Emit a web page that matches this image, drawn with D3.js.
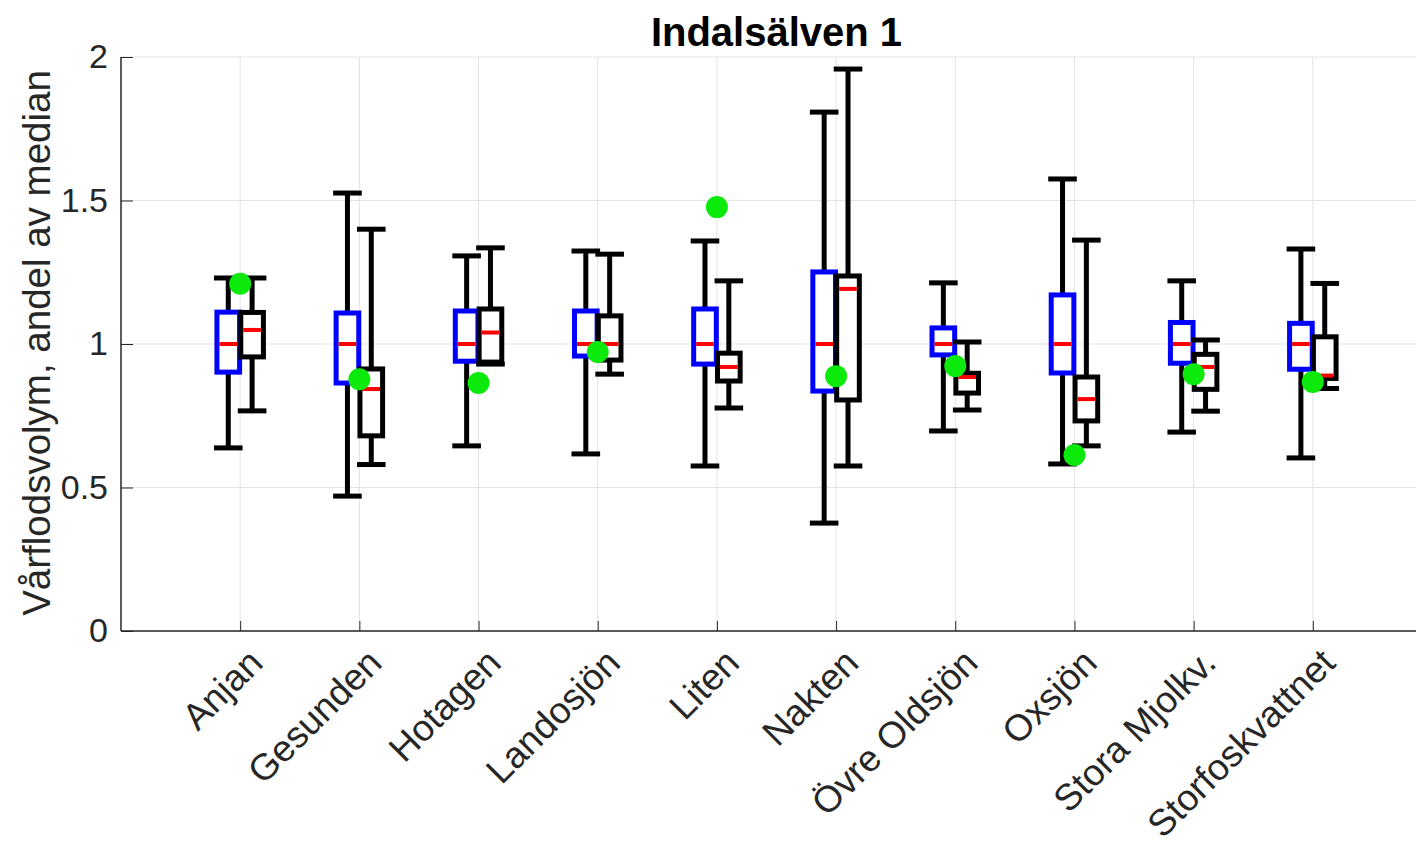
<!DOCTYPE html>
<head>
  <meta charset="utf-8">
  <title>Indalsälven 1</title>
  <style>
    body { margin: 0; background: #fff; }
    text { font-family: "Liberation Sans", Arial, sans-serif; }
  </style>
</head>
<body>
<script src="https://d3js.org/d3.v7.min.js"></script>
<script>

    // Data
    var stations = ["Anjan", "Gesunden", "Hotagen", "Landosjön", "Liten", "Nakten",
                    "Övre Oldsjön", "Oxsjön", "Stora Mjolkv.", "Storfoskvattnet"];

    // blue boxes
    var blueHigh = [1.23, 1.526, 1.307, 1.324, 1.359, 1.808, 1.213, 1.575, 1.22, 1.331];
    var blueQ3   = [1.111, 1.108, 1.115, 1.115, 1.122, 1.251, 1.056, 1.171, 1.075, 1.072];
    var blueMed  = [1.0, 1.0, 1.0, 1.0, 1.0, 1.0, 1.0, 1.0, 1.0, 1.0];
    var blueQ1   = [0.902, 0.864, 0.94, 0.958, 0.93, 0.836, 0.962, 0.899, 0.933, 0.912];
    var blueLow  = [0.638, 0.47, 0.645, 0.617, 0.575, 0.376, 0.697, 0.582, 0.693, 0.603];

    // black boxes
    var blackHigh = [1.23, 1.40, 1.335, 1.313, 1.22, 1.958, 1.007, 1.362, 1.014, 1.211];
    var blackQ3   = [1.11, 0.913, 1.122, 1.098, 0.968, 1.237, 0.898, 0.885, 0.964, 1.025];
    var blackMed  = [1.049, 0.843, 1.04, 1.0, 0.92, 1.192, 0.885, 0.808, 0.92, 0.89];
    var blackQ1   = [0.955, 0.68, 0.937, 0.944, 0.871, 0.805, 0.829, 0.732, 0.842, 0.88];
    var blackLow  = [0.767, 0.58, 0.93, 0.895, 0.777, 0.575, 0.770, 0.645, 0.766, 0.845];

    // green dots
    var greenVal = [1.21, 0.877, 0.864, 0.972, 1.477, 0.888, 0.923, 0.613, 0.895, 0.868];

    var yTicks = [0, 0.5, 1, 1.5, 2];

    var width = 1416, height = 846;
    var margin = { left: 121, right: 1432, top: 57, bottom: 631 };

    var x = d3.scaleLinear().domain([0, stations.length + 1]).range([margin.left, margin.right]);
    var y = d3.scaleLinear().domain([0, 2]).range([margin.bottom, margin.top]);

    var svg = d3.select("body").append("svg")
        .attr("width", width)
        .attr("height", height);

    // grid
    svg.append("g").selectAll("line")
        .data(yTicks)
        .enter().append("line")
        .attr("x1", margin.left).attr("x2", margin.right)
        .attr("y1", function(d) { return y(d); })
        .attr("y2", function(d) { return y(d); })
        .attr("stroke", "#e3e3e3")
        .attr("stroke-width", 1);

    svg.append("g").selectAll("line")
        .data(stations)
        .enter().append("line")
        .attr("x1", function(d, i) { return x(i + 1); })
        .attr("x2", function(d, i) { return x(i + 1); })
        .attr("y1", margin.top).attr("y2", margin.bottom)
        .attr("stroke", "#e3e3e3")
        .attr("stroke-width", 1);

    // axes
    var yAxis = d3.axisLeft(y).tickValues(yTicks).tickSize(-12).tickPadding(13)
        .tickFormat(function(d) { return d; });
    var gy = svg.append("g")
        .attr("transform", "translate(" + margin.left + ",0)")
        .call(yAxis);
    gy.select(".domain").remove();
    gy.selectAll("line").attr("stroke", "#262626");
    gy.selectAll("text")
        .attr("fill", "#262626")
        .style("font-size", "34px");

    var xAxis = d3.axisBottom(x).tickValues(d3.range(1, stations.length + 1)).tickSize(-10)
        .tickFormat(function(d) { return stations[d - 1]; });
    var gx = svg.append("g")
        .attr("transform", "translate(0," + margin.bottom + ")")
        .call(xAxis);
    gx.select(".domain").remove();
    gx.selectAll("line").attr("stroke", "#262626");
    gx.selectAll("text")
        .attr("fill", "#262626")
        .style("font-size", "37px")
        .style("text-anchor", "end")
        .attr("dy", null)
        .attr("y", 0)
        .attr("transform", "translate(24,34) rotate(-45)");

    svg.append("line")
        .attr("x1", margin.left).attr("x2", margin.left)
        .attr("y1", margin.top).attr("y2", margin.bottom)
        .attr("stroke", "#262626").attr("stroke-width", 1.5);
    svg.append("line")
        .attr("x1", margin.left).attr("x2", margin.right)
        .attr("y1", margin.bottom).attr("y2", margin.bottom)
        .attr("stroke", "#262626").attr("stroke-width", 1.5);

    // title and y label
    svg.append("text")
        .attr("x", (margin.left + margin.right) / 2)
        .attr("y", 46)
        .style("text-anchor", "middle")
        .style("font-size", "40px")
        .style("font-weight", "bold")
        .attr("fill", "#000")
        .text("Indalsälven 1");

    svg.append("text")
        .attr("transform", "translate(50," + ((margin.top + margin.bottom) / 2 - 1) + ") rotate(-90)")
        .style("text-anchor", "middle")
        .style("font-size", "38.5px")
        .attr("fill", "#262626")
        .text("Vårflodsvolym, andel av median");

    // boxes
    function drawBoxes(high, q3, med, q1, low, offset, color) {
        var g = svg.append("g");
        var bw = 0.19, cw = 0.24;
        stations.forEach(function(s, i) {
            var cx = i + 1 + offset;
            g.append("line")
                .attr("x1", x(cx)).attr("x2", x(cx))
                .attr("y1", y(high[i])).attr("y2", y(q3[i]))
                .attr("stroke", "#000").attr("stroke-width", 5);
            g.append("line")
                .attr("x1", x(cx)).attr("x2", x(cx))
                .attr("y1", y(q1[i])).attr("y2", y(low[i]))
                .attr("stroke", "#000").attr("stroke-width", 5);
            g.append("line")
                .attr("x1", x(cx - cw / 2)).attr("x2", x(cx + cw / 2))
                .attr("y1", y(high[i])).attr("y2", y(high[i]))
                .attr("stroke", "#000").attr("stroke-width", 5);
            g.append("line")
                .attr("x1", x(cx - cw / 2)).attr("x2", x(cx + cw / 2))
                .attr("y1", y(low[i])).attr("y2", y(low[i]))
                .attr("stroke", "#000").attr("stroke-width", 5);
            g.append("rect")
                .attr("x", x(cx - bw / 2))
                .attr("width", x(cx + bw / 2) - x(cx - bw / 2))
                .attr("y", y(q3[i]))
                .attr("height", y(q1[i]) - y(q3[i]))
                .attr("fill", "#fff")
                .attr("stroke", color).attr("stroke-width", 5);
            g.append("line")
                .attr("x1", x(cx - bw / 2) + 2.5).attr("x2", x(cx + bw / 2) - 2.5)
                .attr("y1", y(med[i])).attr("y2", y(med[i]))
                .attr("stroke", "#ff0000").attr("stroke-width", 4);
        });
    }

    drawBoxes(blueHigh, blueQ3, blueMed, blueQ1, blueLow, -0.1, "#0000ff");
    drawBoxes(blackHigh, blackQ3, blackMed, blackQ1, blackLow, 0.1, "#000");

    // green dots
    svg.append("g").selectAll("circle")
        .data(greenVal)
        .enter().append("circle")
        .attr("cx", function(d, i) { return x(i + 1); })
        .attr("cy", function(d) { return y(d); })
        .attr("r", 11)
        .attr("fill", "#0bea0b");

</script>
</body>
